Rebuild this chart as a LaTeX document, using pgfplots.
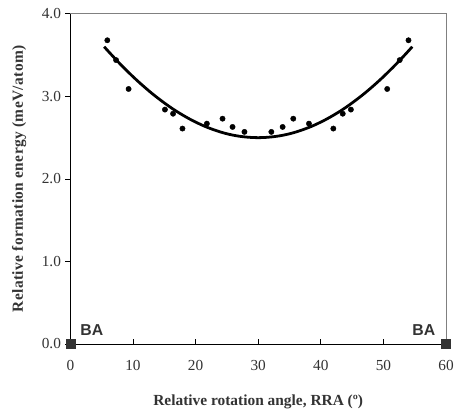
\documentclass[border=0pt]{standalone}
\usepackage{pgfplots}
\pgfplotsset{compat=1.18}
\usepackage{fontspec}
\setmainfont{Liberation Serif}
\newfontfamily\arial{Liberation Sans}
\definecolor{framegray}{gray}{0.5}
\definecolor{txt}{gray}{0.2}
\definecolor{sq}{gray}{0.2}
\begin{document}
\begin{tikzpicture}
\begin{axis}[
  scale only axis, width=379bp, height=333bp,
  xmin=0, xmax=60, ymin=0, ymax=4,
  clip=false,
  axis line style={draw=none},
  xtick={0,10,...,60}, ytick={0,1,2,3,4},
  xtick pos=bottom, ytick pos=left,
  xtick align=inside, ytick align=outside,
  major tick length=5bp,
  tick style={black, line width=0.8bp},
  tick label style={font=\fontsize{15.5}{15.5}\selectfont, text=txt},
  /pgf/number format/assume math mode=true,
  yticklabel style={xshift=-1bp, /pgf/number format/.cd, fixed, fixed zerofill, precision=1},
  xticklabel style={yshift=-13bp},
  xlabel={Relative rotation angle, RRA (º)},
  ylabel={\addfontfeature{LetterSpace=2.5}Relative formation energy (meV/atom)},
  label style={font=\bfseries\fontsize{15.6}{15.6}\selectfont, text=txt},
  xlabel style={at={(0.5,0)}, anchor=base, yshift=-62bp},
  ylabel style={at={(0,0.5)}, anchor=base, yshift=48bp},
]
% fitted curve
\addplot[black, line width=2.8bp, smooth] coordinates {
(5.4,3.602) (6,3.551) (7,3.469) (8,3.389) (9,3.313) (10,3.239) (11,3.169)
(12,3.102) (13,3.038) (14,2.978) (15,2.921) (16,2.867) (17,2.817) (18,2.771)
(19,2.728) (20,2.689) (21,2.653) (22,2.621) (23,2.593) (24,2.568) (25,2.547)
(26,2.530) (27,2.517) (28,2.508) (29,2.502) (30,2.500)
(31,2.502) (32,2.508) (33,2.517) (34,2.530) (35,2.547) (36,2.568) (37,2.593)
(38,2.621) (39,2.653) (40,2.689) (41,2.728) (42,2.771) (43,2.817) (44,2.867)
(45,2.921) (46,2.978) (47,3.038) (48,3.102) (49,3.169) (50,3.239) (51,3.313)
(52,3.389) (53,3.469) (54,3.551) (54.6,3.602)
};
% calculated points
\addplot[only marks, mark=*, mark size=2.7bp, black] coordinates {
(5.9,3.68) (7.3,3.44) (9.3,3.09) (15.1,2.84) (16.4,2.79) (17.9,2.61)
(21.8,2.67) (24.3,2.73) (25.9,2.63) (27.8,2.57) (32.1,2.57) (33.9,2.63)
(35.6,2.73) (38.1,2.67) (42.0,2.61) (43.5,2.79) (44.8,2.84) (50.6,3.09)
(52.6,3.44) (54.0,3.68)
};
% frame
\draw[framegray, line width=0.8bp] (rel axis cs:0,1) -- (rel axis cs:1,1) -- (rel axis cs:1,0);
\draw[black, line width=0.9bp] (rel axis cs:0,1) -- (rel axis cs:0,0) -- (rel axis cs:1,0);
% BA markers
\addplot[only marks, mark=square*, mark size=4.5bp, mark options={fill=sq, draw=sq}] coordinates {(0,0) (60,0)};
\node[anchor=base west, inner sep=0pt, font=\arial\bfseries\fontsize{16}{16}\selectfont, text=txt] at (axis cs:1.58,0.105) {BA};
\node[anchor=base east, inner sep=0pt, font=\arial\bfseries\fontsize{16}{16}\selectfont, text=txt] at (axis cs:58.3,0.105) {BA};
\end{axis}
\path (current axis.south west) ++(-71bp,-70bp) coordinate (bbA);
\path (current axis.north east) ++(7bp,14bp) coordinate (bbB);
\path (bbA) rectangle (bbB);
\end{tikzpicture}
\end{document}
